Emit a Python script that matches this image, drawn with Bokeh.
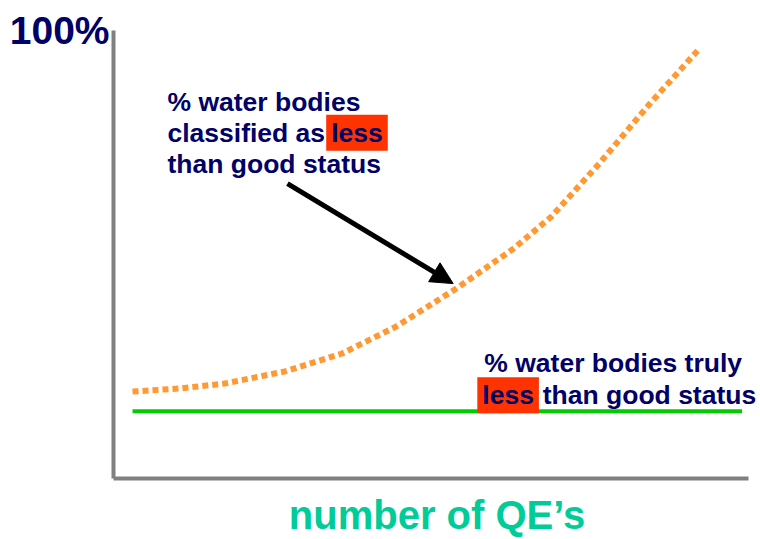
from bokeh.plotting import figure
from bokeh.models import Range1d, FixedTicker, Label, Arrow, NormalHead
from bokeh.embed import file_html
from bokeh.resources import INLINE

# ---- data (x: number of QE's, arbitrary units 0-10; y: % water bodies) ----
qe_classified = [0.3, 1.05, 1.75, 2.7, 3.6, 4.45, 5.4, 6.3, 6.9, 7.65, 8.45, 9.2]
pct_classified = [19.4, 20.1, 21.2, 23.9, 27.9, 33.9, 42.4, 51.3, 58.5, 70.3, 83.7, 95.5]

qe_true = [0.3, 9.9]
pct_true = [15, 15]

y_ticks = [100]
y_tick_labels = {100: "100%"}

arrow_start = (2.74, 65.8)
arrow_end = (5.35, 43.5)

NAVY = "#000066"
FONT = "Liberation Sans"

p = figure(width=760, height=539, output_backend="svg", toolbar_location=None,
           x_range=Range1d(0, 10.19), y_range=Range1d(0, 100),
           min_border_left=113, min_border_right=0, min_border_top=30,
           min_border_bottom=61)
p.grid.visible = False
p.outline_line_color = None
p.background_fill_color = "white"
p.border_fill_color = "white"

# axes
for ax in (p.xaxis[0], p.yaxis[0]):
    ax.axis_line_color = "#808080"
    ax.axis_line_width = 4
    ax.major_tick_line_color = None
    ax.minor_tick_line_color = None
    ax.major_tick_out = 0
    ax.major_tick_in = 0

p.yaxis.ticker = FixedTicker(ticks=y_ticks)
p.yaxis.major_label_overrides = y_tick_labels
p.yaxis.major_label_text_font = FONT
p.yaxis.major_label_text_font_size = "39px"
p.yaxis.major_label_text_font_style = "bold"
p.yaxis.major_label_text_color = NAVY
p.yaxis.major_label_standoff = 4

p.xaxis.bounds = (0, 10)
p.xaxis.ticker = FixedTicker(ticks=[])
p.xaxis.major_label_text_font_size = "0px"
p.xaxis.axis_label = "number of QE\u2019s"
p.xaxis.axis_label_text_font = FONT
p.xaxis.axis_label_text_font_size = "40px"
p.xaxis.axis_label_text_font_style = "bold"
p.xaxis.axis_label_text_color = "#00CC99"
p.xaxis.axis_label_standoff = 14

# series
p.line(qe_true, pct_true, line_color="#00CC00", line_width=4)
p.line(qe_classified, pct_classified, line_color="#FF9933", line_width=6,
       line_dash="6 4")

p.add_layout(Arrow(end=NormalHead(size=22, fill_color="black", line_color="black"),
                   x_start=arrow_start[0], y_start=arrow_start[1],
                   x_end=arrow_end[0], y_end=arrow_end[1],
                   line_color="black", line_width=5))

def txt(x, y, s, bg=None):
    kw = dict(x=x, y=y, text=s, text_font=FONT, text_font_size="26.5px",
              text_font_style="bold", text_color=NAVY,
              text_baseline="alphabetic", text_align="left")
    if bg:
        kw.update(background_fill_color=bg, padding=(5, 3))
    p.add_layout(Label(**kw))

# annotation 1
txt(0.85, 84.1, "% water bodies")
txt(0.85, 77.2, "classified as")
txt(3.35, 77.2, "less", bg="#FF3300")
txt(0.85, 70.1, "than good status")

# annotation 2
txt(5.84, 25.7, "% water bodies truly")
txt(5.73, 18.6, "less", bg="#FF3300")
txt(6.76, 18.6, "than good status")

open("out.html", "w").write(file_html(p, INLINE))
